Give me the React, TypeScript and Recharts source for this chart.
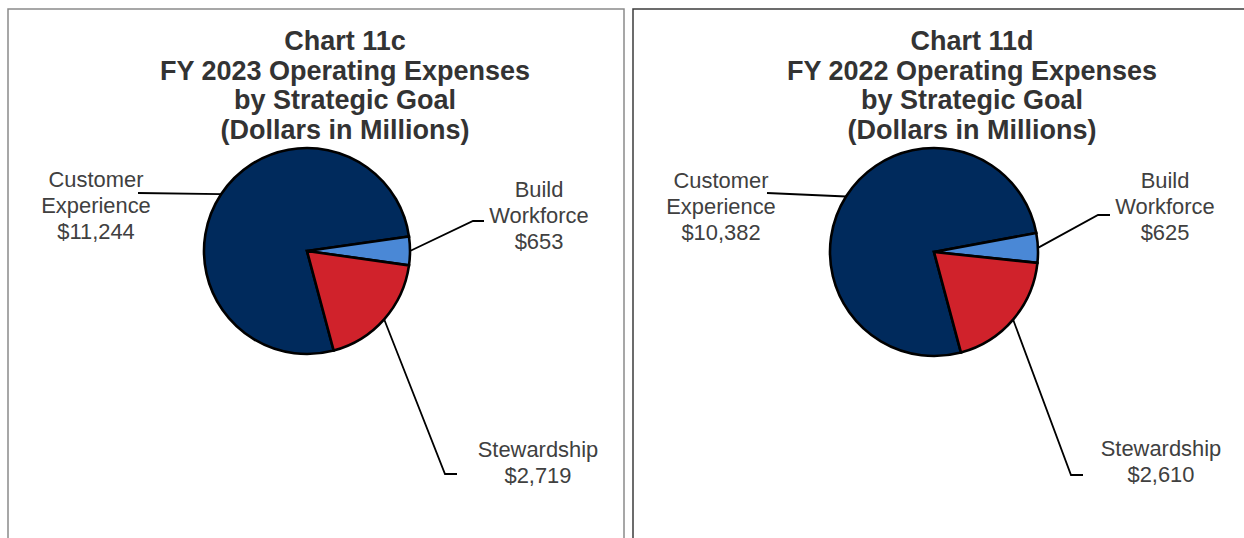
import { PieChart, Pie, Cell } from "recharts";

const GOALS = ["Customer Experience", "Build Workforce", "Stewardship"];
const GOAL_LINES = [["Customer", "Experience"], ["Build", "Workforce"], ["Stewardship"]];
const FY2023 = [11244, 653, 2719];
const FY2022 = [10382, 625, 2610];
const TITLE_2023 = ["Chart 11c", "FY 2023 Operating Expenses", "by Strategic Goal", "(Dollars in Millions)"];
const TITLE_2022 = ["Chart 11d", "FY 2022 Operating Expenses", "by Strategic Goal", "(Dollars in Millions)"];

const COLORS = ["#002a5c", "#4a88d6", "#d0222b"];
const FONT = "'Liberation Sans', Arial, sans-serif";
const RADIAN = Math.PI / 180;

type Pt = [number, number];
interface LabelSpot {
  text: Pt; // centre x, first baseline, relative to pie centre
  path: Pt[]; // leader points after the slice edge
}

const LEFT_SPOTS: LabelSpot[] = [
  { text: [-211, -64], path: [[-169, -58]] },
  { text: [232, -54], path: [[166, -30], [177, -30]] },
  { text: [231, 206], path: [[138, 223], [150, 223]] },
];
const RIGHT_SPOTS: LabelSpot[] = [
  { text: [-213, -64], path: [[-167, -59]] },
  { text: [231, -64], path: [[164, -37], [176, -37]] },
  { text: [227, 204], path: [[137, 223], [149, 223]] },
];

const toRows = (values: number[]) => GOALS.map((name, i) => ({ name, value: values[i] }));

const makeLabel = (spots: LabelSpot[]) => (p: any) => {
  const { cx, cy, midAngle, outerRadius, index, value } = p;
  const spot = spots[index];
  const ex = cx + outerRadius * Math.cos(-midAngle * RADIAN);
  const ey = cy + outerRadius * Math.sin(-midAngle * RADIAN);
  const pts = [[ex, ey], ...spot.path.map(([x, y]) => [cx + x, cy + y])]
    .map(([x, y]) => `${x},${y}`)
    .join(" ");
  const lines = [...GOAL_LINES[index], "$" + value.toLocaleString("en-US")];
  const tx = cx + spot.text[0];
  const ty = cy + spot.text[1];
  return (
    <g key={`lbl-${index}`}>
      <polyline points={pts} fill="none" stroke="#000" strokeWidth={1.8} />
      <text x={tx} y={ty} textAnchor="middle" fontFamily={FONT} fontSize={21.9} fill="#404040">
        {lines.map((l, i) => (
          <tspan key={i} x={tx} y={ty + i * 25.8}>
            {l}
          </tspan>
        ))}
      </text>
    </g>
  );
};

function Title({ lines, x }: { lines: string[]; x: number }) {
  return (
    <text textAnchor="middle" fontFamily={FONT} fontWeight="bold" fontSize={27} fill="#333">
      {lines.map((l, i) => (
        <tspan key={i} x={x} y={50 + i * 29.5}>
          {l}
        </tspan>
      ))}
    </text>
  );
}

export default function App() {
  return (
    <div style={{ position: "absolute", left: 0, top: 0, width: 1244, height: 538, background: "#fff" }}>
      <svg width={1244} height={538} style={{ position: "absolute", left: 0, top: 0 }}>
        <polyline points="8,538 8,9 624,9 624,538" fill="none" stroke="#8a8a8a" strokeWidth={1.5} />
        <polyline points="633,538 633,9 1244,9" fill="none" stroke="#3c3c3c" strokeWidth={1.5} />
        <Title lines={TITLE_2023} x={345} />
        <Title lines={TITLE_2022} x={972} />
      </svg>
      <div style={{ position: "absolute", left: 0, top: 0 }}>
        <PieChart width={1244} height={538} margin={{ top: 0, right: 0, bottom: 0, left: 0 }}>
          <Pie
            data={toRows(FY2023)}
            dataKey="value"
            nameKey="name"
            cx={307}
            cy={251}
            outerRadius={103}
            startAngle={285}
            endAngle={-75}
            stroke="#000"
            strokeWidth={2.6}
            label={makeLabel(LEFT_SPOTS)}
            labelLine={false}
            isAnimationActive={false}
          >
            {FY2023.map((_, i) => (
              <Cell key={i} fill={COLORS[i]} />
            ))}
          </Pie>
          <Pie
            data={toRows(FY2022)}
            dataKey="value"
            nameKey="name"
            cx={934}
            cy={252}
            outerRadius={104}
            startAngle={285}
            endAngle={-75}
            stroke="#000"
            strokeWidth={2.6}
            label={makeLabel(RIGHT_SPOTS)}
            labelLine={false}
            isAnimationActive={false}
          >
            {FY2022.map((_, i) => (
              <Cell key={i} fill={COLORS[i]} />
            ))}
          </Pie>
        </PieChart>
      </div>
    </div>
  );
}
